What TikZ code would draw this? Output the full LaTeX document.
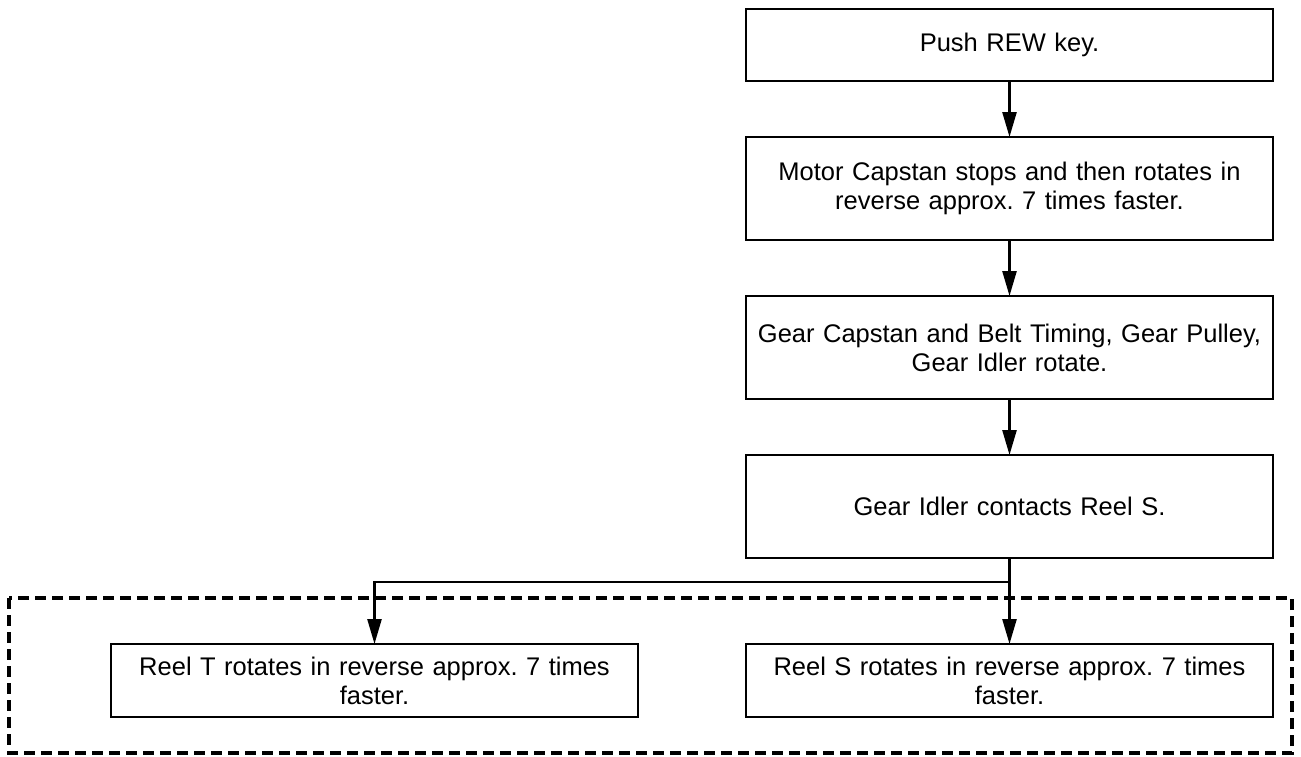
\documentclass[tikz,border=0pt]{standalone}
\usepackage{fontspec}
\setmainfont{Liberation Sans}
\usetikzlibrary{arrows.meta}
\frenchspacing
\begin{document}
\begin{tikzpicture}[x=1pt,y=-1pt,
  stepbox/.style={draw=black,line width=2.5pt,fill=white,inner sep=0pt,outer sep=0pt,
    minimum width=527pt,text width=510pt,align=center,
    font=\fontsize{25.5}{29}\selectfont},
  tall/.style={minimum height=103pt},
  flow/.style={line width=2.5pt,-{Triangle[length=25pt,width=14pt]}},
  group/.style={draw=black,line width=3.5pt,dash pattern=on 11pt off 6pt}]
\useasboundingbox (0,0) rectangle (1301,756);
\draw[group] (9,598) rectangle (1292,753);
\node[stepbox,minimum height=72pt] (b1) at (1009.5,45) {Push REW key.};
\node[stepbox,tall] (b2) at (1009.5,188.5) {Motor Capstan stops and then rotates in\\reverse approx. 7 times faster.};
\node[stepbox,tall] (b3) at (1009.5,347.5) {Gear Capstan and Belt Timing, Gear Pulley,\\Gear Idler rotate.};
\node[stepbox,tall] (b4) at (1009.5,506.5) {Gear Idler contacts Reel S.};
\node[stepbox,minimum height=73pt] (rt) at (374.5,680.5) {Reel T rotates in reverse approx. 7 times\\faster.};
\node[stepbox,minimum height=73pt] (rs) at (1009.5,680.5) {Reel S rotates in reverse approx. 7 times\\faster.};
\coordinate (j) at (1009.5,582);
\draw[flow] (b1) -- (b2);
\draw[flow] (b2) -- (b3);
\draw[flow] (b3) -- (b4);
\draw[flow] (b4) -- (rs);
\draw[flow] (j) -| (rt.north);
\end{tikzpicture}
\end{document}
